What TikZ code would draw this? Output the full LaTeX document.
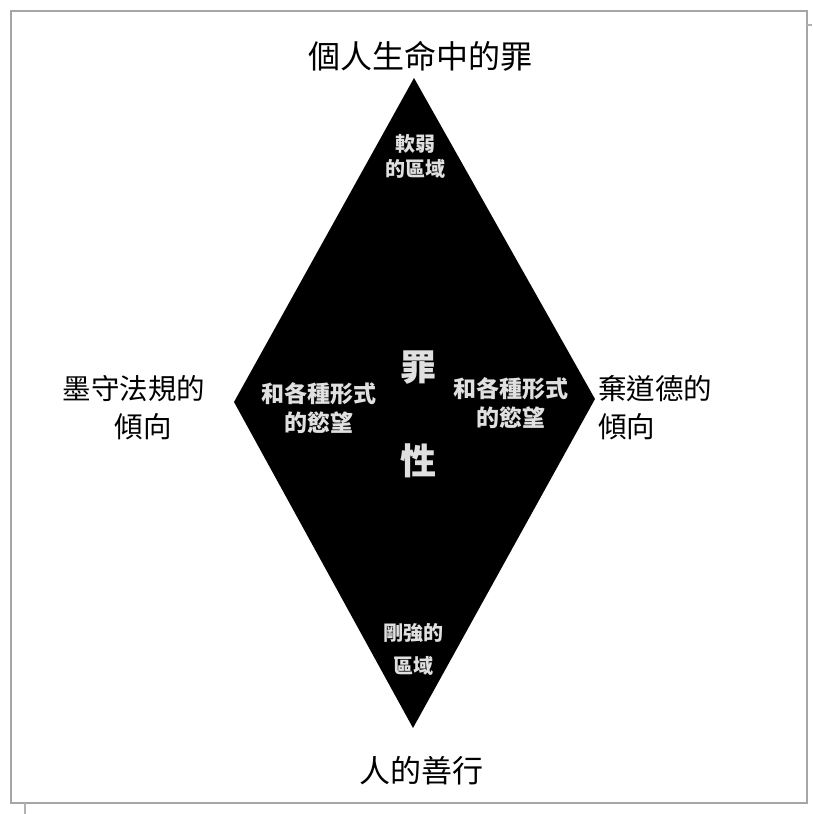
\documentclass[tikz,border=0pt]{standalone}
\usepackage{fontspec}
\newfontfamily\cjk{Noto Sans CJK TC}
\begin{document}
\begin{tikzpicture}[x=1pt,y=-1pt,
  outer/.style 2 args={font=\cjk\fontsize{#1}{#2}\selectfont, inner sep=0pt, text=black},
  inner/.style 2 args={font=\cjk\bfseries\fontsize{#1}{#2}\selectfont, inner sep=0pt, text=white!88!black},
  framecol/.style={black!35, line width=2.2pt}]
\useasboundingbox (0,0) rectangle (812,814);
\fill[white] (0,0) rectangle (812,814);
\draw[framecol] (11,11) rectangle (807,803);
\draw[black!30, line width=1.5pt] (25,803) -- (25,814);
\draw[black!30, line width=1.2pt] (807,25) -- (812,25);
\coordinate (T) at (414,78);
\coordinate (R) at (595,399);
\coordinate (B) at (413,728);
\coordinate (L) at (234,402);
\fill[black] (T) -- (R) -- (B) -- (L) -- cycle;
\node[outer={32}{40}] (top) at (420,56) {個人生命中的罪};
\node[outer={31}{39}] (bot) at (421,771) {人的善行};
\node[outer={28.5}{38}, align=center] (left) at (134,408) {墨守法規的\\\hspace*{18pt}傾向};
\node[outer={28.5}{38}, align=left, anchor=west] (right) at (598,408) {棄道德的\\傾向};
\node[inner={20}{25}, align=center] (weak) at (415,156) {軟弱\\的區域};
\node[inner={20}{33}, align=center] (strong) at (413,649) {剛強的\\區域};
\node[inner={23}{29}, align=center] (dl) at (319,408) {和各種形式\\的慾望};
\node[inner={23}{29}, align=center] (dr) at (511,403) {和各種形式\\的慾望};
\node[inner={36}{40}] (zui) at (418,368) {罪};
\node[inner={36}{40}] (xing) at (418,461) {性};
\end{tikzpicture}
\end{document}
